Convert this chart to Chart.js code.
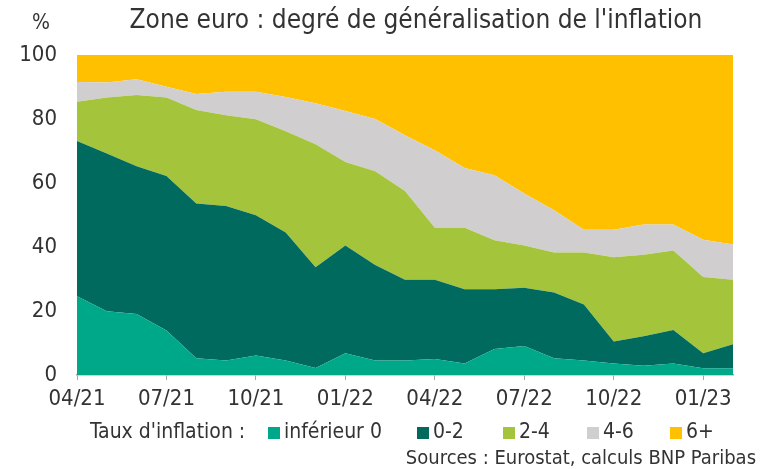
<!DOCTYPE html>
<html>
<head>
<meta charset="utf-8">
<script src="https://cdn.jsdelivr.net/npm/chart.js@4"></script>
<style>
  html, body { margin: 0; padding: 0; background: #fff; }
  #wrap { width: 762px; height: 469px; position: relative; }
</style>
</head>
<body>
<div id="wrap"><canvas id="chart" width="762" height="469"></canvas></div>
<script>
// Données (part des postes HICP par tranche d'inflation, %)
const mois = ['04/21','05/21','06/21','07/21','08/21','09/21','10/21','11/21','12/21',
  '01/22','02/22','03/22','04/22','05/22','06/22','07/22','08/22','09/22','10/22','11/22','12/22',
  '01/23','02/23'];
const inferieur0 = [24.6,19.9,19.1,13.9,5.2,4.5,6.1,4.5,2.2,6.8,4.5,4.5,5.0,3.6,8.1,9.1,5.2,4.5,3.6,2.9,3.6,2.1,2.1];
const de0a2 = [48.5,49.3,46.1,48.3,48.4,48.3,43.8,40.0,31.5,33.7,29.9,25.3,24.8,23.2,18.7,18.2,20.6,17.5,6.9,9.2,10.5,4.7,7.5];
const de2a4 = [12.3,17.5,22.3,24.5,29.2,28.4,30.0,31.7,38.4,26.1,29.3,27.7,16.2,19.2,15.3,13.2,12.5,16.3,26.3,25.5,24.8,23.8,20.2];
const de4a6 = [6.2,4.7,4.9,3.4,5.0,7.3,8.6,10.7,12.8,15.9,16.3,17.4,24.2,18.7,20.3,16.2,13.2,7.1,8.6,9.4,8.1,11.7,11.0];
const plus6 = [8.4,8.6,7.6,9.9,12.2,11.5,11.5,13.1,15.1,17.5,20.0,25.1,29.8,35.3,37.6,43.3,48.5,54.6,54.6,53.0,53.0,57.7,59.2];

const series = [
  { label: 'inférieur 0', data: inferieur0, color: '#00A88A' },
  { label: '0-2', data: de0a2, color: '#006A5F' },
  { label: '2-4', data: de2a4, color: '#A4C43B' },
  { label: '4-6', data: de4a6, color: '#D0CECE' },
  { label: '6+', data: plus6, color: '#FFC000' }
];

const FONT = '"Liberation Sans Narrow", "DejaVu Sans Condensed", sans-serif';
const TXT = '#333333';

// ===== textes (titre, légende, sources) =====
const textes = {
  id: 'textes',
  afterDraw(chart) {
    const ctx = chart.ctx;
    ctx.save();
    ctx.fillStyle = TXT;
    ctx.textBaseline = 'middle';

    ctx.font = '26px ' + FONT;
    ctx.textAlign = 'center';
    ctx.fillText("Zone euro : degré de généralisation de l'inflation", 416, 21);

    ctx.font = '21px ' + FONT;
    ctx.fillText('%', 41, 24);

    // légende
    ctx.textAlign = 'left';
    ctx.font = '21px ' + FONT;
    ctx.fillText("Taux d'inflation :", 90, 433);
    const boxX = [268, 417, 503, 587, 670];
    chart.data.datasets.forEach((ds, i) => {
      ctx.fillStyle = ds.backgroundColor;
      ctx.fillRect(boxX[i], 427, 12, 12);
      ctx.fillStyle = TXT;
      ctx.fillText(ds.label, boxX[i] + 16, 433);
    });

    ctx.textAlign = 'right';
    ctx.font = '20px ' + FONT;
    ctx.fillText('Sources : Eurostat, calculs BNP Paribas', 756, 459);
    ctx.restore();
  }
};

new Chart(document.getElementById('chart'), {
  type: 'line',
  data: {
    labels: mois,
    datasets: series.map((s, i) => ({
      label: s.label,
      data: s.data,
      backgroundColor: s.color,
      borderColor: s.color,
      borderWidth: 0,
      pointRadius: 0,
      tension: 0,
      fill: i === 0 ? 'origin' : '-1'
    }))
  },
  options: {
    responsive: false,
    animation: false,
    layout: { padding: { left: 17, top: 55, right: 29, bottom: 0 } },
    plugins: { legend: { display: false }, title: { display: false }, tooltip: { enabled: false } },
    scales: {
      x: {
        offset: false,
        afterFit: (s) => { s.height = 94; },
        border: { display: true, color: '#A6A6A6', width: 1.5 },
        grid: {
          drawOnChartArea: false,
          tickLength: 5,
          color: (c) => (c.index % 3 === 0 ? '#A6A6A6' : 'rgba(0,0,0,0)')
        },
        ticks: {
          autoSkip: false,
          maxRotation: 0,
          padding: 6,
          color: TXT,
          font: { family: FONT, size: 22 },
          callback: function (v, i) { return i % 3 === 0 ? this.getLabelForValue(v) : ''; }
        }
      },
      y: {
        stacked: true,
        min: 0,
        max: 100,
        afterFit: (s) => { s.width = 60; },
        border: { display: false },
        grid: { display: false, drawTicks: false },
        ticks: { stepSize: 20, padding: 20, color: TXT, font: { family: FONT, size: 22 } }
      }
    }
  },
  plugins: [textes]
});
</script>
</body>
</html>
